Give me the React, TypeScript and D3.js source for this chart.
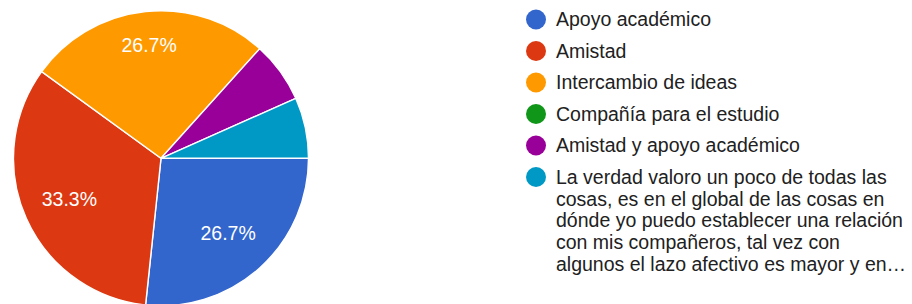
import React from "react";
import * as d3 from "d3";

const categories = [
  "Apoyo académico",
  "Amistad",
  "Intercambio de ideas",
  "Compañía para el estudio",
  "Amistad y apoyo académico",
  "La verdad valoro un poco de todas las cosas, es en el global de las cosas en dónde yo puedo establecer una relación con mis compañeros, tal vez con algunos el lazo afectivo es mayor y en…",
];
const counts = [4, 5, 4, 0, 1, 1];
const colors = ["#3366cc", "#dc3912", "#ff9900", "#109618", "#990099", "#0099c6"];
const legendLines = [
  ["Apoyo académico"],
  ["Amistad"],
  ["Intercambio de ideas"],
  ["Compañía para el estudio"],
  ["Amistad y apoyo académico"],
  [
    "La verdad valoro un poco de todas las",
    "cosas, es en el global de las cosas en",
    "dónde yo puedo establecer una relación",
    "con mis compañeros, tal vez con",
    "algunos el lazo afectivo es mayor y en…",
  ],
];

const W = 912;
const H = 304;
const cx = 161;
const cy = 158.3;
const R = 147.5;
const FONT = "'Liberation Sans', Arial, sans-serif";
const FS = 19.5;
const LINE_H = 21.7;

export default function App() {
  const total = d3.sum(counts);
  const pie = d3
    .pie<number>()
    .sort(null)
    .value((d) => d)
    .startAngle(Math.PI / 2)
    .endAngle(Math.PI / 2 + 2 * Math.PI);
  const arcs = pie(counts);
  const arc = d3.arc<d3.PieArcDatum<number>>().innerRadius(0).outerRadius(R);

  const legendX = 536;
  const legendY0 = 19.5;
  const rowH = 31.5;

  return (
    <svg
      width={W}
      height={H}
      style={{ position: "absolute", left: 0, top: 0, background: "#fff" }}
      fontFamily={FONT}
    >
      <g transform={`translate(${cx},${cy})`}>
        {arcs.map((a, i) =>
          a.value > 0 ? (
            <path key={i} d={arc(a) || ""} fill={colors[i]} stroke="#fff" strokeWidth={1.4} />
          ) : null
        )}
        {arcs.map((a, i) => {
          const pct = (a.value / total) * 100;
          if (pct < 10) return null;
          const mid = (a.startAngle + a.endAngle) / 2;
          const sx = Math.sin(mid);
          const sy = -Math.cos(mid);
          const k = 0.68 + 0.09 * Math.max(0, -sy);
          const x = sx * R * k;
          const y = sy * R * k;
          return (
            <text
              key={"l" + i}
              x={x}
              y={y + FS * 0.35}
              textAnchor="middle"
              fill="#fff"
              fontSize={FS}
            >
              {pct.toFixed(1) + "%"}
            </text>
          );
        })}
      </g>
      <g>
        {categories.map((c, i) => {
          const y = legendY0 + i * rowH;
          return (
            <g key={c}>
              <circle cx={legendX} cy={y} r={10} fill={colors[i]} />
              <text x={556} y={y + FS * 0.35} fontSize={FS} fill="#212121">
                {legendLines[i].map((ln, j) => (
                  <tspan key={j} x={556} dy={j === 0 ? 0 : LINE_H}>
                    {ln}
                  </tspan>
                ))}
              </text>
            </g>
          );
        })}
      </g>
    </svg>
  );
}
